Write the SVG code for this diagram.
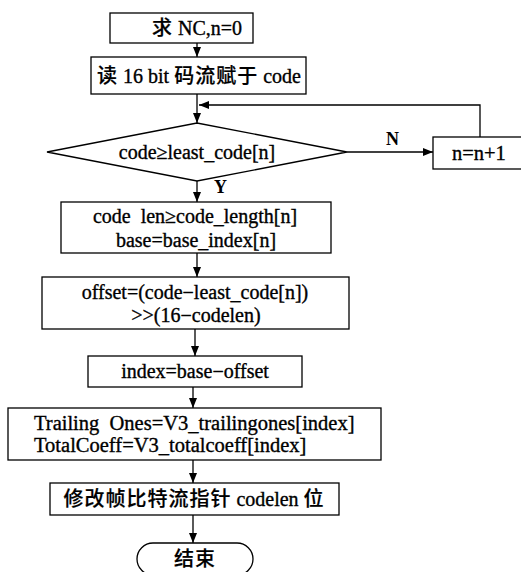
<svg xmlns="http://www.w3.org/2000/svg" width="521" height="572" viewBox="0 0 521 572">
<defs>
<marker id="ah" markerWidth="10" markerHeight="8" refX="10" refY="4" orient="auto" markerUnits="userSpaceOnUse">
<path d="M0,0 L10,4 L0,8 Z" fill="#000"/>
</marker>
</defs>
<style>
.box{fill:#fff;stroke:#000;stroke-width:1.3}
.t{font-family:"Liberation Serif","Noto Sans CJK SC",serif;font-size:20px;fill:#000;stroke:#000;stroke-width:0.35;text-anchor:middle;white-space:pre}
.tl{font-family:"Liberation Serif","Noto Sans CJK SC",serif;font-size:20.5px;fill:#000;stroke:#000;stroke-width:0.35;white-space:pre}
.c{font-family:"Noto Sans CJK SC",sans-serif;font-weight:500;letter-spacing:1px;stroke-width:0.2}
.lbl{font-family:"Liberation Serif",serif;font-size:18px;font-weight:bold;fill:#000}
.ln{fill:none;stroke:#000;stroke-width:1.3}
</style>
<rect width="521" height="572" fill="#fff"/>
<g id="connectors">
<line class="ln" x1="197" y1="43" x2="197" y2="57" marker-end="url(#ah)"/>
<line class="ln" x1="197" y1="94" x2="197" y2="123" marker-end="url(#ah)"/>
<polyline class="ln" points="480,137 480,105 199,105" marker-end="url(#ah)"/>
<line class="ln" x1="347" y1="152" x2="433" y2="152" marker-end="url(#ah)"/>
<line class="ln" x1="197" y1="181" x2="197" y2="202" marker-end="url(#ah)"/>
<line class="ln" x1="197" y1="253" x2="197" y2="277" marker-end="url(#ah)"/>
<line class="ln" x1="195" y1="329" x2="195" y2="356" marker-end="url(#ah)"/>
<line class="ln" x1="193" y1="387" x2="193" y2="408" marker-end="url(#ah)"/>
<line class="ln" x1="193" y1="460" x2="193" y2="483" marker-end="url(#ah)"/>
<line class="ln" x1="193" y1="515" x2="193" y2="543" marker-end="url(#ah)"/>
<text class="lbl" x="386" y="145">N</text>
<text class="lbl" x="214" y="193">Y</text>
</g>
<g id="start">
<rect class="box" x="110" y="13" width="143" height="30"/>
<text class="t" x="197" y="35"><tspan class="c">求</tspan> NC,n=0</text>
</g>
<g id="read">
<rect class="box" x="91" y="57" width="215" height="37"/>
<text class="t" x="199" y="83"><tspan class="c">读</tspan> 16 bit <tspan class="c">码流赋于</tspan> code</text>
</g>
<g id="decision">
<polygon class="box" points="47,152 197,123 347,152 197,181"/>
<text class="t" x="197" y="159">code≥least_code[n]</text>
</g>
<g id="incr">
<rect class="box" x="433" y="137" width="100" height="32"/>
<text class="tl" x="452" y="160">n=n+1</text>
</g>
<g id="codelen">
<rect class="box" x="61" y="202" width="270" height="51"/>
<text class="t" x="195" y="223">code  len≥code_length[n]</text>
<text class="t" x="196" y="247">base=base_index[n]</text>
</g>
<g id="offset">
<rect class="box" x="42" y="277" width="307" height="52"/>
<text class="t" x="195" y="299">offset=(code−least_code[n])</text>
<text class="t" x="196" y="322">&gt;&gt;(16−codelen)</text>
</g>
<g id="index">
<rect class="box" x="88" y="356" width="214" height="31"/>
<text class="t" x="195" y="378">index=base−offset</text>
</g>
<g id="trailing">
<rect class="box" x="8" y="408" width="373" height="52"/>
<text class="tl" x="34" y="430">Trailing  Ones=V3_trailingones[index]</text>
<text class="tl" x="34" y="452">TotalCoeff=V3_totalcoeff[index]</text>
</g>
<g id="modify">
<rect class="box" x="50" y="483" width="289" height="32"/>
<text class="t" x="194" y="506"><tspan class="c">修改帧比特流指针</tspan> codelen <tspan class="c">位</tspan></text>
</g>
<g id="end">
<rect class="box" x="137" y="543" width="116" height="32" rx="16" ry="16"/>
<text class="t" x="195" y="566"><tspan class="c">结束</tspan></text>
</g>
</svg>
